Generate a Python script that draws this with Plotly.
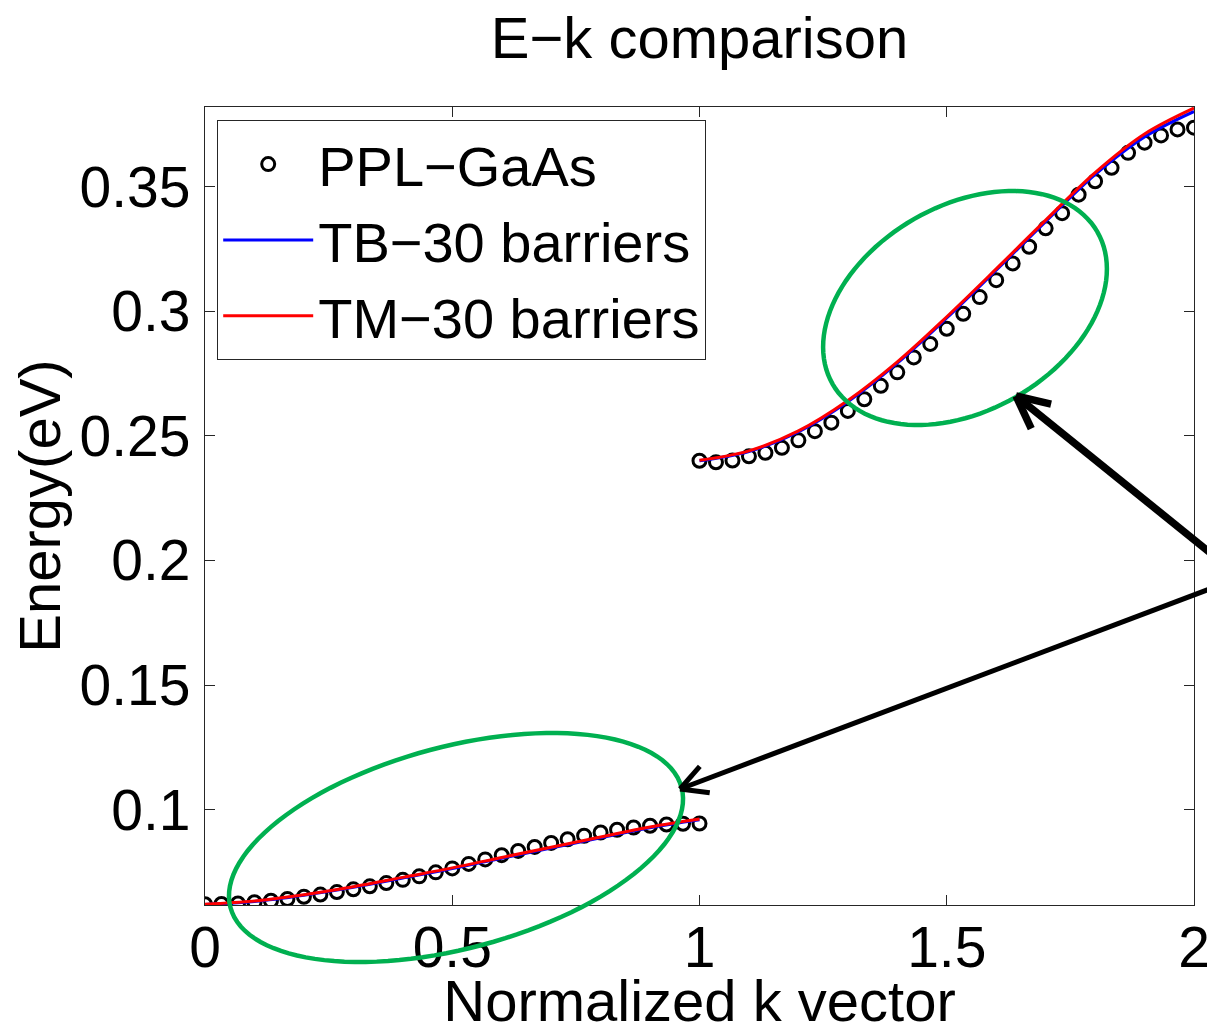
import math
import plotly.graph_objects as go

# ---------------- data ----------------
k_low = [i / 30 for i in range(31)]
ppl_low = [0.0620, 0.0621, 0.0623, 0.0628, 0.0634, 0.0641, 0.0650, 0.0659, 0.0669, 0.0680,
           0.0692, 0.0705, 0.0718, 0.0732, 0.0748, 0.0764, 0.0782, 0.0800, 0.0817, 0.0834,
           0.0850, 0.0866, 0.0881, 0.0895, 0.0908, 0.0919, 0.0928, 0.0935, 0.0940, 0.0943,
           0.0944]
k_high = [1 + i / 30 for i in range(31)]
ppl_high = [0.2400, 0.2394, 0.2401, 0.2418, 0.2432, 0.2452, 0.2482, 0.2519, 0.2553, 0.2600,
            0.2647, 0.2701, 0.2755, 0.2815, 0.2869, 0.2930, 0.2990, 0.3057, 0.3125, 0.3192,
            0.3259, 0.3333, 0.3394, 0.3468, 0.3522, 0.3576, 0.3636, 0.3677, 0.3706, 0.3730,
            0.3737]

k_line_low = [0.0, 0.1, 0.2, 0.3, 0.4, 0.5, 0.6, 0.7, 0.8, 0.9, 1.0]
tm_low = [0.0620, 0.0633, 0.0658, 0.0690, 0.0728, 0.0766, 0.0808, 0.0849, 0.0890, 0.0930, 0.0962]
tb_low = [0.0619, 0.0631, 0.0656, 0.0688, 0.0725, 0.0763, 0.0805, 0.0846, 0.0887, 0.0927, 0.0959]
k_line_high = [1.0, 1.1, 1.2, 1.3, 1.4, 1.5, 1.6, 1.7, 1.8, 1.9, 2.0]
tm_high = [0.2402, 0.2440, 0.2520, 0.2642, 0.2797, 0.2978, 0.3170, 0.3366, 0.3557, 0.3712, 0.3816]
tb_high = [0.2400, 0.2437, 0.2516, 0.2637, 0.2792, 0.2973, 0.3165, 0.3360, 0.3549, 0.3700, 0.3802]

x_ticks = [0, 0.5, 1, 1.5, 2]
y_ticks = [0.1, 0.15, 0.2, 0.25, 0.3, 0.35]
x_range = [0, 2]
y_range = [0.0617, 0.3820]

FONT = "Liberation Sans, Arial, Helvetica, sans-serif"
W, H = 1207, 1033
L, R, T, B = 205, 1194, 107, 905

MARKER = dict(symbol="circle-open", size=13, color="black", line=dict(width=3, color="black"))

fig = go.Figure()
fig.add_trace(go.Scatter(x=k_low, y=ppl_low, mode="markers", name="PPL\u2212GaAs",
                         legendgroup="ppl", marker=MARKER))
fig.add_trace(go.Scatter(x=k_high, y=ppl_high, mode="markers", name="PPL\u2212GaAs",
                         legendgroup="ppl", showlegend=False, marker=MARKER))
fig.add_trace(go.Scatter(x=k_line_low, y=tb_low, mode="lines", name="TB\u221230 barriers",
                         legendgroup="tb", line=dict(color="#0000ff", width=3, shape="spline")))
fig.add_trace(go.Scatter(x=k_line_high, y=tb_high, mode="lines", name="TB\u221230 barriers",
                         legendgroup="tb", showlegend=False,
                         line=dict(color="#0000ff", width=3, shape="spline")))
fig.add_trace(go.Scatter(x=k_line_low, y=tm_low, mode="lines", name="TM\u221230 barriers",
                         legendgroup="tm", line=dict(color="#ff0000", width=3, shape="spline")))
fig.add_trace(go.Scatter(x=k_line_high, y=tm_high, mode="lines", name="TM\u221230 barriers",
                         legendgroup="tm", showlegend=False,
                         line=dict(color="#ff0000", width=3, shape="spline")))


def pp(px, py):
    return (px - L) / (R - L), (B - py) / (B - T)


def ellipse_path(cx, cy, a, b, theta_deg, n=120):
    th = math.radians(theta_deg)
    pts = []
    for i in range(n):
        t = 2 * math.pi * i / n
        x = cx + a * math.cos(t) * math.cos(th) - b * math.sin(t) * math.sin(th)
        y = cy - (a * math.cos(t) * math.sin(th) + b * math.sin(t) * math.cos(th))
        px_, py_ = pp(x, y)
        pts.append(f"{px_:.5f},{py_:.5f}")
    return "M" + " L".join(pts) + " Z"


shapes = []
for (cx, cy, a, b, th) in [(456, 847.5, 233.4, 100.9, 14.9), (965, 308, 152.7, 102.5, 29.9)]:
    shapes.append(dict(type="path", xref="paper", yref="paper", path=ellipse_path(cx, cy, a, b, th),
                       line=dict(color="#00b050", width=4.5), fillcolor="rgba(0,0,0,0)", layer="above"))


def arrow(tip, tail, width, head_len, head_ang):
    ang = math.atan2(tail[1] - tip[1], tail[0] - tip[0])
    out = []
    x0, y0 = pp(*tip)
    x1, y1 = pp(*tail)
    out.append(dict(type="line", xref="paper", yref="paper", x0=x0, y0=y0, x1=x1, y1=y1,
                    line=dict(color="black", width=width)))
    for s in (-1, 1):
        a2 = ang + s * math.radians(head_ang)
        hx, hy = tip[0] + head_len * math.cos(a2), tip[1] + head_len * math.sin(a2)
        xa, ya = pp(hx, hy)
        out.append(dict(type="path", xref="paper", yref="paper",
                        path=f"M{xa:.5f},{ya:.5f} L{x0:.5f},{y0:.5f}",
                        line=dict(color="black", width=width)))
    return out


shapes += arrow((1016, 396), (1260, 593), 7.5, 36, 26)
shapes += arrow((680, 789), (1260, 570), 5, 30, 28)

axis_common = dict(showline=True, mirror="ticks", linecolor="#262626", linewidth=1.2,
                   ticks="inside", ticklen=10, tickcolor="#262626", tickwidth=1.2,
                   showgrid=False, zeroline=False, ticklabeloverflow="allow",
                   tickfont=dict(family=FONT, size=57, color="black"))

fig.update_layout(
    width=W, height=H,
    margin=dict(l=L, r=W - R, t=T, b=H - B, autoexpand=False),
    paper_bgcolor="white", plot_bgcolor="white",
    title=dict(text="E\u2212k comparison", x=(L + R) / 2 / W, xanchor="center",
               y=1 - 38 / H, yanchor="middle", yref="container",
               font=dict(family=FONT, size=58, color="black")),
    xaxis=dict(range=x_range, tickvals=x_ticks, ticklabelstandoff=-8,
               title=dict(text="Normalized k vector", standoff=24,
                          font=dict(family=FONT, size=58, color="black")),
               **axis_common),
    yaxis=dict(range=y_range, tickvals=y_ticks, ticklabelstandoff=2,
               title=dict(text="Energy(eV)", standoff=0,
                          font=dict(family=FONT, size=58, color="black")),
               **axis_common),
    legend=dict(x=pp(217, 0)[0], y=pp(0, 120)[1], xanchor="left", yanchor="top",
                bgcolor="white", bordercolor="#262626", borderwidth=1.2,
                font=dict(family=FONT, size=56, color="black"),
                itemwidth=90, tracegroupgap=0),
    shapes=shapes,
    showlegend=True,
)

fig.write_html("out.html")
